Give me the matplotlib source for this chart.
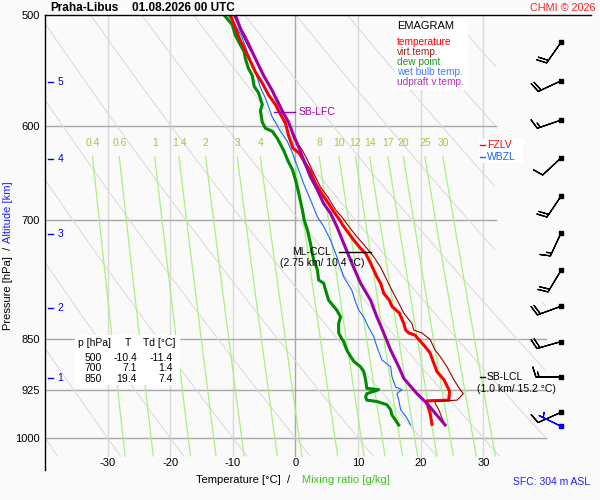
import numpy as np
import matplotlib
matplotlib.use("Agg")
import matplotlib.pyplot as plt
from matplotlib.patches import Rectangle
from matplotlib.ticker import FixedLocator, NullLocator

plt.rcParams['font.family'] = ['Liberation Sans', 'DejaVu Sans']

####################
# sounding profiles (p in hPa, values in deg C)
t_p = [978, 960, 945, 941, 940, 926, 918, 909, 897, 885, 870, 861, 850, 845, 842, 838,
       829, 815, 806, 798, 789, 776, 768, 751, 739, 733, 723, 715, 705, 700, 690, 679,
       671, 659, 646, 637, 627, 622, 609, 597, 585, 579, 570, 559, 549, 537, 528, 519,
       508, 500]
t_val = [21.8, 21.5, 21.0, 21.0, 24.5, 24.6, 24.2, 23.7, 22.6, 22.1, 21.5, 20.7, 19.6, 19.1,
         18.1, 17.6, 17.3, 16.6, 15.4, 15.0, 14.1, 13.6, 13.0, 12.0, 11.2, 10.4, 9.3, 8.5,
         7.5, 7.1, 6.1, 5.1, 4.3, 3.2, 2.4, 1.5, 0.6, -0.4, -1.1, -1.6, -2.7, -3.2, -4.3,
         -5.3, -6.4, -7.4, -8.2, -9.0, -9.8, -10.4]

td_p = [979, 963, 955, 947, 942, 940, 935, 930, 924, 922, 909, 897, 890, 882, 875, 866,
        854, 850, 842, 829, 820, 811, 802, 798, 790, 776, 772, 759, 747, 727, 711, 700,
        688, 669, 655, 644, 635, 624, 612, 605, 602, 596, 585, 579, 568, 562, 552, 546,
        537, 531, 525, 517, 508, 500]
td_val = [16.5, 15.4, 15.2, 14.6, 13.0, 11.4, 11.2, 11.4, 13.3, 11.4, 11.2, 10.9, 10.4, 9.3,
          8.8, 8.2, 7.7, 7.4, 6.9, 6.9, 7.2, 6.6, 5.7, 5.3, 5.0, 4.5, 3.7, 3.5, 2.9, 2.4,
          1.9, 1.4, 1.1, 0.5, 0.0, -0.5, -1.2, -1.9, -2.9, -3.7, -4.8, -5.3, -5.6, -5.3,
          -5.9, -6.6, -6.9, -7.5, -8.0, -8.2, -8.8, -9.6, -10.1, -11.4]

tw_p = [979, 968, 955, 940, 930, 924, 920, 904, 890, 880, 861, 847, 833, 820, 811, 798,
        785, 768, 743, 723, 707, 696, 677, 659, 639, 625, 615, 605, 591, 573, 563, 549,
        534, 519, 508, 500]
tw_val = [18.4, 17.8, 16.8, 16.5, 16.2, 17.0, 16.0, 15.4, 15.2, 13.8, 13.0, 12.5, 11.6, 10.9,
          10.1, 9.5, 9.0, 7.7, 6.6, 5.6, 4.5, 3.5, 2.4, 1.3, 0.2, -0.6, -1.3, -2.4, -3.7,
          -4.8, -5.6, -6.4, -7.5, -8.5, -9.6, -10.8]

tv_p = [979, 968, 955, 945, 942, 940, 930, 924, 909, 890, 875, 866, 851, 842, 838, 829,
        815, 802, 785, 772, 756, 743, 731, 719, 707, 697, 688, 673, 663, 648, 634, 624,
        612, 602, 590, 576, 563, 552, 540, 528, 513, 503, 500]
tv_val = [23.9, 23.4, 22.9, 22.3, 22.3, 25.8, 26.8, 26.3, 25.3, 24.2, 23.1, 22.3, 21.5, 20.2,
          18.9, 18.6, 17.3, 16.5, 15.4, 14.6, 13.6, 12.5, 11.2, 9.8, 8.5, 7.5, 6.4, 5.1,
          4.0, 2.9, 1.9, 1.1, -0.3, -0.8, -1.6, -2.7, -4.0, -5.1, -6.1, -7.4, -8.8, -9.6,
          -9.9]

parcel_p = [979, 945, 930, 907, 890, 866, 842, 820, 798, 776, 751, 727, 707, 692, 681, 666,
            652, 634, 622, 609, 596, 582, 566, 552, 537, 522, 511, 500]
parcel_val = [23.9, 21.0, 19.4, 17.3, 16.5, 15.2, 14.1, 13.0, 12.0, 10.4, 9.0, 7.7, 6.6, 5.6,
              4.5, 3.5, 2.4, 1.3, 0.6, -0.3, -1.1, -2.4, -3.7, -5.1, -6.4, -7.7, -8.8, -9.6]

# wind (direction from, speed in kt) at 0.5 km steps, plus surface
wind_p = [959, 905, 854, 806, 760, 715, 673, 632, 594, 557, 523]
wind_dir = [246, 270, 254, 250, 211, 205, 214, 227, 251, 245, 215]
wind_spd = [10, 15, 20, 20, 20, 15, 20, 10, 15, 20, 20]
sfc_p, sfc_dir, sfc_spd = 980, 296, 5

# table and levels
tab_p = [500, 700, 850]
tab_t = [-10.4, 7.1, 19.4]
tab_td = [-11.4, 1.4, 7.4]
alt_km = [1, 2, 3, 4, 5]
alt_p = [907, 808, 716, 633, 558]
fzlv_p, wbzl_p, lfc_p, ccl_p, lcl_p = 619, 631, 586, 737, 905

iso_p = [600, 700, 850, 925, 1000]
iso_tmax = [32, 32, 40, 40, 40]
isotherms = [-30, -20, -10, 0, 10, 20, 30]
mix_w = [0.4, 0.6, 1, 1.4, 2, 3, 4, 6, 8, 10, 12, 14, 17, 20, 25, 30]

####################
bg = '#fafafa'
fig = plt.figure(figsize=(6, 5), dpi=100, facecolor=bg)
ax = fig.add_axes([45/600, 30/500, 546/600, 455/500])
ax.set_facecolor(bg)
ax.set_yscale('log')
ax.set_ylim(1054, 500)
ax.set_xlim(-40, 47.2)
for s in ['right', 'bottom']:
    ax.spines[s].set_visible(False)
for s in ['left', 'top']:
    ax.spines[s].set_color('black')
    ax.spines[s].set_linewidth(1)
    ax.spines[s].set_zorder(6)
ax.yaxis.set_major_locator(FixedLocator([500, 600, 700, 850, 925, 1000]))
ax.yaxis.set_minor_locator(NullLocator())
ax.set_yticklabels(['500', '600', '700', '850', '925', '1000'])
ax.tick_params(axis='y', length=0, pad=3.5, labelsize=8)
ax.set_xticks([])


def px(x, y):
    return x / 600, 1 - y / 500


def tmax(p):
    return np.where(p < 800, 32, 40)


def white_box(x0, y0, x1, y1):
    # white box given by pixel corners, drawn below the texts
    ax.add_patch(Rectangle(px(x0, y1), (x1 - x0) / 600, (y1 - y0) / 500,
                           transform=fig.transFigure, facecolor='white',
                           edgecolor='none', zorder=2))


# background lines
for t in isotherms:
    ax.plot([t, t], [500, 1030], color='#a8a8a8' if t == 0 else '#d8d8d8', lw=1, zorder=1)
for p, tm in zip(iso_p, iso_tmax):
    ax.plot([-40, tm], [p, p], color='#a8a8a8', lw=1, zorder=1)

pp = np.geomspace(500, 1030, 300)
for th in range(-40, 130, 10):
    ta = (th + 273.15) * (pp / 1000) ** 0.286 - 273.15
    ta = np.where((ta > tmax(pp)) | (ta < -40), np.nan, ta)
    ax.plot(ta, pp, color='#dadada', lw=0.75, zorder=1)

pm = np.geomspace(631, 1030, 100)
for w in mix_w:
    lne = np.log(w * pm / (622 + w) / 6.112)
    tm_ = 243.5 * lne / (17.67 - lne)
    ax.plot(tm_, pm, color='#a8f080', lw=0.9, zorder=1)
    ax.text(tm_[0], 617, '%g' % w, color='#9ccc3c', fontsize=7.5,
            ha='center', va='center', zorder=1)

# profiles
ax.plot(td_val, td_p, color='#008c00', lw=2.2, zorder=3)
ax.plot(tw_val, tw_p, color='#1466ff', lw=0.8, zorder=3)
ax.plot(t_val, t_p, color='#ff0000', lw=2.2, zorder=3)
ax.plot(tv_val, tv_p, color='#990000', lw=0.8, zorder=4)
ax.plot(parcel_val, parcel_p, color='#a000a8', lw=2.2, zorder=4)

# wind barbs
wd = np.radians(wind_dir)
ws = np.array(wind_spd)
bx = np.full(len(wind_p), 42.4)
ax.barbs(bx, wind_p, -ws * np.sin(wd), -ws * np.cos(wd), length=6, lw=0.9,
         color='black', zorder=5)
ax.scatter(bx, wind_p, s=7, marker='s', color='black', zorder=6)
sd = np.radians(sfc_dir)
ax.barbs([42.4], [sfc_p], [-sfc_spd * np.sin(sd)], [-sfc_spd * np.cos(sd)], length=6,
         lw=0.9, color='#0000ff', zorder=5)
ax.scatter([42.4], [sfc_p], s=7, marker='s', color='#0000ff', zorder=6)

# altitude ticks
for km, p in zip(alt_km, alt_p):
    ax.plot([-39.6, -38.8], [p, p], color='#0000ee', lw=1, zorder=5)
    ax.text(-38.0, p, str(km), color='#0000ee', fontsize=7.5, ha='left', va='center')

# temperature labels
for t in isotherms:
    ax.text(t, 1042, '%d' % t, fontsize=8, ha='center', va='center')

# level labels
ax.plot([-3.5, 0], [lfc_p, lfc_p], color='#a000a8', lw=1, zorder=5)
ax.text(0.5, lfc_p, 'SB-LFC', color='#a000a8', fontsize=7.5, ha='left', va='center', zorder=5)
ax.plot([7.0, 12.0], [ccl_p, ccl_p], color='black', lw=1, zorder=5)
ax.text(5.6, ccl_p, 'ML-CCL', fontsize=7.5, ha='right', va='center', zorder=5)
ax.text(4.2, 751, '(2.75 km/ 10.4 °C)', fontsize=7.5, ha='center', va='center', zorder=5)
ax.plot([29.5, 30.3], [lcl_p, lcl_p], color='black', lw=1, zorder=5)
ax.text(30.6, lcl_p, 'SB-LCL', fontsize=7.5, ha='left', va='center', zorder=5)
ax.text(35.3, 923, '(1.0 km/ 15.2 °C)', fontsize=7.5, ha='center', va='center', zorder=5)

white_box(478, 139, 523, 163)
ax.plot([29.5, 30.3], [fzlv_p, fzlv_p], color='#ff0000', lw=1, zorder=5)
ax.text(30.6, fzlv_p, 'FZLV', color='#ff0000', fontsize=7.5, ha='left', va='center', zorder=5)
ax.plot([29.5, 30.3], [wbzl_p, wbzl_p], color='#1466ff', lw=1, zorder=5)
ax.text(30.6, wbzl_p, 'WBZL', color='#1466ff', fontsize=7.5, ha='left', va='center', zorder=5)

# legend box
white_box(395, 18, 468, 90)
fig.text(*px(397, 26), 'EMAGRAM', fontsize=8, ha='left', va='center', zorder=7)
leg = [('temperature', '#ff0000'), ('virt.temp.', '#a02020'), ('dew point', '#209620'),
       ('wet bulb temp.', '#3c7cff'), ('udpraft v.temp.', '#b030b8')]
for i, (name, col) in enumerate(leg):
    fig.text(*px(397, 42 + 10 * i), name, color=col, fontsize=7.3, ha='left', va='center')

# table
white_box(75, 335, 180, 385)
fig.text(*px(78, 343), 'p [hPa]', fontsize=7.5, ha='left', va='center')
fig.text(*px(128, 343), 'T', fontsize=7.5, ha='center', va='center')
fig.text(*px(143, 343), 'Td [°C]', fontsize=7.5, ha='left', va='center')
for i in range(len(tab_p)):
    y = 358 + 10.3 * i
    fig.text(*px(102, y), '%d' % tab_p[i], fontsize=7.5, ha='right', va='center')
    fig.text(*px(137, y), '%.1f' % tab_t[i], fontsize=7.5, ha='right', va='center')
    fig.text(*px(173, y), '%.1f' % tab_td[i], fontsize=7.5, ha='right', va='center')

# titles and axis labels
fig.text(*px(50, 8), 'Praha-Libus', fontsize=8.5, fontweight='bold', ha='left', va='center')
fig.text(*px(132, 8), '01.08.2026 00 UTC', fontsize=8.5, fontweight='bold',
         ha='left', va='center')
fig.text(*px(596, 8), 'CHMI © 2026', color='#ff2020', fontsize=7.8, ha='right', va='center')
fig.text(*px(590, 482), 'SFC: 304 m ASL', color='#2020ff', fontsize=7.5,
         ha='right', va='center')
fig.text(*px(290, 480), 'Temperature [°C]  /', fontsize=8, ha='right', va='center')
fig.text(*px(302, 480), 'Mixing ratio [g/kg]', color='#40c020', fontsize=8,
         ha='left', va='center')
fig.text(*px(8.5, 247), 'Pressure [hPa]  /', fontsize=8, rotation=90,
         ha='center', va='top')
fig.text(*px(8.5, 243), 'Altitude [km]', color='#2020ff', fontsize=8, rotation=90,
         ha='center', va='bottom')

fig.savefig('out.png', dpi=100, facecolor=bg)
